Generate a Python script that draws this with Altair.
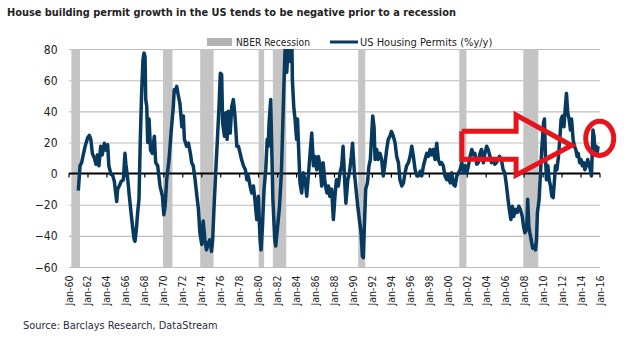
import altair as alt
import pandas as pd

TITLE = "House building permit growth in the US tends to be negative prior to a recession"
SOURCE = "Source: Barclays Research, DataStream"
LEGEND_REC = "NBER Recession"
LEGEND_LINE = "US Housing Permits (%y/y)"

rec_start = ["1960-04-01", "1969-12-01", "1973-11-01", "1980-01-01", "1981-07-01",
             "1990-07-01", "2001-03-01", "2007-12-01"]
rec_end = ["1961-02-28", "1970-11-30", "1975-03-31", "1980-07-31", "1982-11-30",
           "1991-03-31", "2001-11-30", "2009-06-30"]

permit_year = [
    1960.98, 1961.16, 1961.33, 1961.5, 1961.7, 1961.97, 1962.14, 1962.3, 1962.46, 1962.67,
    1962.85, 1963.0, 1963.16, 1963.34, 1963.5, 1963.73, 1963.9, 1964.08, 1964.2, 1964.43,
    1964.6, 1964.78, 1964.92, 1965.03, 1965.13, 1965.3, 1965.5, 1965.73, 1965.9, 1966.0,
    1966.2, 1966.36, 1966.54, 1966.7, 1966.86, 1966.96, 1967.1, 1967.24, 1967.38, 1967.52,
    1967.66, 1967.8, 1967.91, 1968.02, 1968.09, 1968.2, 1968.3, 1968.44, 1968.6, 1968.79,
    1969.0, 1969.14, 1969.35, 1969.6, 1969.85, 1970.0, 1970.13, 1970.3, 1970.55, 1970.76,
    1971.0, 1971.1, 1971.25, 1971.36, 1971.53, 1971.7, 1971.9, 1972.06, 1972.17, 1972.4,
    1972.6, 1972.8, 1972.94, 1973.1, 1973.3, 1973.45, 1973.65, 1973.8, 1974.0, 1974.15,
    1974.33, 1974.5, 1974.7, 1974.85, 1975.03, 1975.15, 1975.3, 1975.47, 1975.65, 1975.82,
    1975.96, 1976.1, 1976.2, 1976.4, 1976.54, 1976.67, 1976.8, 1977.0, 1977.16, 1977.33,
    1977.5, 1977.7, 1977.87, 1978.05, 1978.2, 1978.4, 1978.6, 1978.76, 1978.9, 1979.1,
    1979.27, 1979.45, 1979.6, 1979.8, 1979.97, 1980.15, 1980.25, 1980.4, 1980.57, 1980.75,
    1980.9, 1981.0, 1981.1, 1981.27, 1981.4, 1981.5, 1981.7, 1981.8, 1982.0, 1982.2,
    1982.4, 1982.5, 1982.65, 1982.8, 1982.96, 1983.14, 1983.3, 1983.5, 1983.56, 1983.7,
    1983.84, 1984.0, 1984.1, 1984.26, 1984.36, 1984.54, 1984.7, 1984.9, 1985.07, 1985.24,
    1985.4, 1985.6, 1985.78, 1985.95, 1986.13, 1986.3, 1986.48, 1986.65, 1986.8, 1987.0,
    1987.2, 1987.36, 1987.5, 1987.7, 1987.88, 1988.05, 1988.2, 1988.4, 1988.58, 1988.76,
    1988.9, 1989.1, 1989.2, 1989.4, 1989.57, 1989.74, 1989.9, 1990.1, 1990.27, 1990.45,
    1990.62, 1990.8, 1990.94, 1991.04, 1991.15, 1991.29, 1991.47, 1991.64, 1991.78, 1991.93,
    1992.03, 1992.17, 1992.28, 1992.45, 1992.6, 1992.8, 1992.97, 1993.14, 1993.3, 1993.5,
    1993.67, 1993.85, 1994.0, 1994.2, 1994.38, 1994.56, 1994.74, 1994.9, 1995.1, 1995.27,
    1995.44, 1995.6, 1995.8, 1995.97, 1996.15, 1996.32, 1996.5, 1996.68, 1996.85, 1997.03,
    1997.2, 1997.38, 1997.55, 1997.73, 1997.9, 1998.08, 1998.25, 1998.43, 1998.6, 1998.78,
    1998.95, 1999.13, 1999.3, 1999.47, 1999.65, 1999.84, 2000.0, 2000.2, 2000.36, 2000.55,
    2000.72, 2000.9, 2001.07, 2001.24, 2001.42, 2001.6, 2001.77, 2001.95, 2002.12, 2002.3,
    2002.48, 2002.64, 2002.8, 2003.0, 2003.16, 2003.34, 2003.5, 2003.7, 2003.86, 2004.04,
    2004.2, 2004.4, 2004.55, 2004.73, 2004.9, 2005.08, 2005.25, 2005.4, 2005.6, 2005.78,
    2005.95, 2006.1, 2006.3, 2006.48, 2006.6, 2006.75, 2006.9, 2007.1, 2007.27, 2007.44,
    2007.6, 2007.8, 2007.94, 2008.07, 2008.27, 2008.37, 2008.5, 2008.6, 2008.8, 2008.9,
    2009.07, 2009.2, 2009.3, 2009.4, 2009.58, 2009.72, 2009.86, 2010.04, 2010.14, 2010.25,
    2010.35, 2010.5, 2010.64, 2010.78, 2010.92, 2011.06, 2011.2, 2011.3, 2011.45, 2011.62,
    2011.76, 2011.9, 2012.04, 2012.2, 2012.3, 2012.46, 2012.6, 2012.74, 2012.88, 2013.0,
    2013.16, 2013.3, 2013.44, 2013.58, 2013.7, 2013.86, 2014.0, 2014.14, 2014.28, 2014.4,
    2014.55, 2014.7, 2014.84, 2014.98, 2015.1, 2015.26, 2015.37, 2015.47, 2015.6, 2015.7,
    2015.8,
]
permit_yoy = [
    -11, 5, 7, 12, 17.5, 23, 24.5, 22, 13, 10,
    6, 12, 5, 17.5, 12, 19.5, 15, 18.5, 5, -0.5,
    -1, -5, -12.5, -18, -10, -8, -5, -4, 13, 6,
    -4, -14.5, -25, -34, -42, -43.5, -36, -25, -16.5, 22,
    52, 73, 77.5, 75, 47.5, 43, 20, 35, 15, 13,
    24, 7, 5, -8, -14.5, -26.5, -21, -4, 9, 26,
    43, 54, 53, 56, 50, 45, 30, 37, 22, 17.5,
    19.5, 13, 7, 5, -4, -12.5, -23, -38, -45.5, -30.5,
    -42.5, -49, -44.5, -42.5, -50, -42.5, -21, 0.5, 22, 43,
    64.5, 63.5, 32.5, 24, 39, 22, 40, 26, 43, 47.5,
    37, 17.5, 17.5, 13, 9, 5, 2.5, -4, -1.5, -8,
    -12.5, -8, -16.5, -29.5, -14.5, -42.5, -49, -34, -10, 2.5,
    22, 17.5, 32.5, 47.5, 11, -16.5, -42.5, -46.5, -34, -21,
    0.5, 22, 54, 82, 65, 84, 72, 86, 60, 43,
    35, 22, 35, 9, -6, -12.5, 0.5, -4, -14.5, -1.5,
    11, 26, 5, 11, 2.5, 11, 5, -8, 7, -6,
    -12.5, -8, -14.5, -10, -29.5, -14.5, -4, -8, 0.5, 5,
    17.5, -8, -19, -4, 0.5, 9, 19.5, 0.5, -10, -21,
    -29.5, -38, -53, -54, -34, -10, -6, 5, 9, 26,
    37, 30, 9, 15.5, 9, 13, 9, -1.5, 5, 15.5,
    22, 24, 27, 24, 20, 11, 7, -4, -8, -6,
    0.5, 5, 7, 11, 17.5, 11, 2.5, -1.5, -1.5, 1.5,
    -1.5, 5, 9, 13, 11, 15.5, 12, 15.5, 9, 19.5,
    9, 6, 7, 5, -1.5, -4, -1.5, -6, 0.5, -7,
    -8, -1.5, 0.5, 2.5, 7, 0.5, 5, 0.5, 5, 11,
    15.5, 12, 13, 6, 7, 13, 15.5, 7, 13, 17.5,
    15.5, 11, 7, 9, 6, 7, 9, 11, 9, 2.5,
    0.5, -6, -16.5, -25, -29.5, -21, -27.5, -23, -25, -21,
    -23, -27.5, -34, -38, -36, -16.5, -34, -38, -44.5, -48,
    -46.5, -49, -42.5, -25, -16.5, 0.5, 15.5, 32.5, 35, 11,
    -4, 5, -4, -8, -14.5, -15.5, -4, 5, 2.5, 11,
    22, 35, 37, 30, 39, 51.5, 39, 35, 28, 35,
    22, 17.5, 15.5, 11, 13, 7, 9, 5, 7, 2.5,
    5, 9, 6, 2.5, -1.5, 28, 24, 13, 17.5, 13,
    17.5,
]

tick_years = list(range(1960, 2017, 2))
y_ticks = [-60, -40, -20, 0, 20, 40, 60, 80]

# red annotation: hollow arrow outline and ellipse (data coordinates)
arrow_year = [2001.42, 2007.15, 2007.15, 2013.0, 2007.15, 2007.15, 2001.42, 2001.42]
arrow_val = [27.2, 27.2, 37.6, 18.0, -1.0, 9.2, 9.2, 27.2]
circle_year = [2015.97]
circle_val = [22.6]

FONT = "Liberation Sans Narrow, Arial Narrow, DejaVu Sans Condensed, sans-serif"
NAVY = "#073a5e"
RED = "#e8141c"
TEXT = "#222222"


def to_date(y):
    yr = int(y)
    a = pd.Timestamp(yr, 1, 1)
    b = pd.Timestamp(yr + 1, 1, 1)
    return a + (b - a) * (y - yr)


perm_df = pd.DataFrame({"date": [to_date(y) for y in permit_year], "yoy": permit_yoy})
rec_df = pd.DataFrame({"start": pd.to_datetime(rec_start), "end": pd.to_datetime(rec_end)})
tick_df = pd.DataFrame({"date": [pd.Timestamp(y, 1, 1) for y in tick_years],
                        "lo": [0] * len(tick_years), "hi": [-2.6] * len(tick_years)})
grid_vals = [v for v in y_ticks if v != 0]
grid_df = pd.DataFrame({"g": grid_vals, "g2": [v - 0.7 for v in grid_vals]})
arrow_df = pd.DataFrame({"i": list(range(len(arrow_year))),
                         "date": [to_date(y) for y in arrow_year], "v": arrow_val})
circ_df = pd.DataFrame({"date": [to_date(y) for y in circle_year], "v": circle_val})

xscale = alt.Scale(domain=[alt.DateTime(year=1960, month=1, date=1),
                           alt.DateTime(year=2016, month=1, date=1)])
xaxis = alt.Axis(values=[alt.DateTime(year=y, month=1, date=1) for y in tick_years],
                 format="%b-%y", labelAngle=270, grid=False, domain=False, ticks=False,
                 labelPadding=8, labelFont=FONT, labelFontSize=10.5, labelColor=TEXT,
                 labelOverlap=False, labelFlush=False, title=None)
yscale = alt.Scale(domain=[-60, 80], nice=False)
yaxis = alt.Axis(values=y_ticks, grid=False,
                 domain=False, ticks=False, labelPadding=12, labelFont=FONT,
                 labelFontSize=12, labelColor=TEXT, labelOverlap=False, title=None)


def X(f):
    return alt.X(f, type="temporal", scale=xscale, axis=xaxis, title=None)


def Y(f):
    return alt.Y(f, type="quantitative", scale=yscale, axis=yaxis, title=None)


# gridlines drawn as thin filled rects (about 1px tall)
gridlines = alt.Chart(grid_df).mark_rect(color="#bdbdbd", opacity=1).encode(
    y=Y("g"), y2=alt.Y2("g2"))

bands = alt.Chart(rec_df).mark_rect(color="#c4c4c4").encode(
    x=X("start"), x2=alt.X2("end"))

zero = alt.Chart(pd.DataFrame({"v": [0]})).mark_rule(color="black", strokeWidth=2).encode(
    y=Y("v"))

zero_ticks = alt.Chart(tick_df).mark_rule(color="black", strokeWidth=1.2).encode(
    x=X("date"), y=Y("lo"), y2=alt.Y2("hi"))

line = alt.Chart(perm_df).mark_line(color=NAVY, strokeWidth=3.5, clip=True,
                                    strokeJoin="round").encode(
    x=X("date"), y=Y("yoy"))

arrow = alt.Chart(arrow_df).mark_line(color=RED, strokeWidth=5, strokeJoin="miter").encode(
    x=X("date"), y=Y("v"), order="i:Q")

ELLIPSE = "M0,-1.22A1,1.22,0,1,1,0,1.22A1,1.22,0,1,1,0,-1.22Z"
circle = alt.Chart(circ_df).mark_point(shape=ELLIPSE, size=784, filled=False, color=RED,
                                       strokeWidth=5, opacity=1).encode(
    x=X("date"), y=Y("v"))


def label(text, x, y, size, weight="normal", color=TEXT):
    return alt.Chart(pd.DataFrame({"t": [text]})).mark_text(
        align="left", baseline="alphabetic", font=FONT, fontSize=size,
        fontWeight=weight, color=color).encode(
        x=alt.value(x), y=alt.value(y), text="t:N")


title = label(TITLE, -62, -33, 10.9, "bold")
source = label(SOURCE, -46, 280, 10.9, color="#1f2a44")
leg_rect = alt.Chart(pd.DataFrame({"t": [LEGEND_REC]})).mark_rect(color="#b3b3b3").encode(
    x=alt.value(138), x2=alt.value(163), y=alt.value(-11), y2=alt.value(-3))
leg_text1 = label(LEGEND_REC, 167, -3, 10.2)
leg_line = alt.Chart(pd.DataFrame({"t": [LEGEND_LINE]})).mark_rule(
    color=NAVY, strokeWidth=3).encode(
    x=alt.value(261), x2=alt.value(289), y=alt.value(-7))
leg_text2 = label(LEGEND_LINE, 291, -3, 11)

chart = alt.layer(
    gridlines, bands, zero, zero_ticks, line, arrow, circle,
    title, source, leg_rect, leg_text1, leg_line, leg_text2
).properties(
    width=531, height=218,
    autosize=alt.AutoSizeParams(type="none"),
    padding={"left": 69, "top": 49, "right": 36, "bottom": 71},
).configure_view(stroke=None)

chart.save("out.html", embed_options={"renderer": "svg", "actions": False})
